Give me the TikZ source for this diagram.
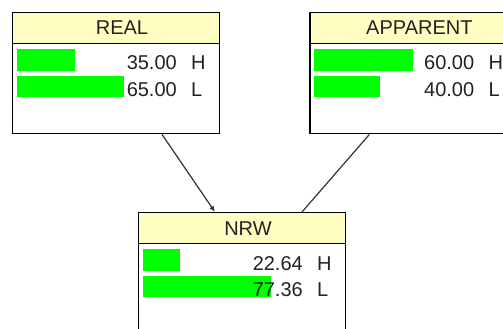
\documentclass[tikz,border=0pt]{standalone}
\usepackage{fontspec}
\setmainfont{Liberation Sans}
\usetikzlibrary{arrows.meta, positioning, calc}
\definecolor{hdrfill}{HTML}{FFFFC4}
\definecolor{barfill}{HTML}{00FF00}
\definecolor{txtgray}{HTML}{222222}
\definecolor{lnkgray}{HTML}{333333}
\tikzset{
  cpt/.style={rectangle, draw=black, fill=white, line width=1.4pt,
              minimum width=207pt, minimum height=121pt, inner sep=0pt},
  cpthead/.style={rectangle, draw=black, fill=hdrfill, line width=1.4pt,
                  minimum width=207pt, minimum height=31pt, inner sep=0pt},
  ttl/.style={font=\fontsize{20}{20}\selectfont, text=txtgray, inner sep=0pt},
  val/.style={font=\fontsize{20}{20}\selectfont, text=txtgray, inner sep=0pt},
  bar/.style={fill=barfill},
  link/.style={line width=1.2pt, draw=lnkgray},
}

\begin{document}
\begin{tikzpicture}
    \useasboundingbox[fill=white] (0,0) rectangle (503pt,-329pt);
    \clip (0,0) rectangle (503pt,-329pt);

    % boxes and headers
    \node[cpt, anchor=north west] (real) at (12pt,-12pt) {};
    \node[cpt, right=89pt of real] (apparent) {};
    \node[cpt, anchor=north west] (nrw) at (138pt,-212pt) {};
    \node[cpthead, anchor=north] (realh) at (real.north) {};
    \node[cpthead, anchor=north] (apparenth) at (apparent.north) {};
    \node[cpthead, anchor=north] (nrwh) at (nrw.north) {};
    \node[ttl, anchor=base] (realt) at ([shift={(110pt,-23pt)}]real.north west) {REAL};
    \node[ttl, anchor=base] (apparentt) at ([shift={(110pt,-23pt)}]apparent.north west) {APPARENT};
    \node[ttl, anchor=base] (nrwt) at ([shift={(110pt,-23pt)}]nrw.north west) {NRW};

    % belief bars (100% = 165pt)
    \fill[bar] ([shift={(5pt,-37pt)}]real.north west) rectangle +(57.75pt,-22pt);
    \fill[bar] ([shift={(5pt,-64pt)}]real.north west) rectangle +(107.25pt,-21pt);
    \fill[bar] ([shift={(5pt,-37pt)}]apparent.north west) rectangle +(99pt,-22pt);
    \fill[bar] ([shift={(5pt,-64pt)}]apparent.north west) rectangle +(66pt,-21pt);
    \fill[bar] ([shift={(5pt,-37pt)}]nrw.north west) rectangle +(37.36pt,-22pt);
    \fill[bar] ([shift={(5pt,-64pt)}]nrw.north west) rectangle +(127.64pt,-21pt);

    % values
    \node[val, anchor=base east] (realH) at ([shift={(165pt,-58pt)}]real.north west) {35.00};
    \node[val, anchor=base west] (realHs) at ([shift={(179pt,-58pt)}]real.north west) {H};
    \node[val, anchor=base east] (realL) at ([shift={(165pt,-84pt)}]real.north west) {65.00};
    \node[val, anchor=base west] (realLs) at ([shift={(179pt,-84pt)}]real.north west) {L};
    \node[val, anchor=base east] (apparentH) at ([shift={(165pt,-58pt)}]apparent.north west) {60.00};
    \node[val, anchor=base west] (apparentHs) at ([shift={(179pt,-58pt)}]apparent.north west) {H};
    \node[val, anchor=base east] (apparentL) at ([shift={(165pt,-84pt)}]apparent.north west) {40.00};
    \node[val, anchor=base west] (apparentLs) at ([shift={(179pt,-84pt)}]apparent.north west) {L};
    \node[val, anchor=base east] (nrwH) at ([shift={(165pt,-58pt)}]nrw.north west) {22.64};
    \node[val, anchor=base west] (nrwHs) at ([shift={(179pt,-58pt)}]nrw.north west) {H};
    \node[val, anchor=base east] (nrwL) at ([shift={(165pt,-84pt)}]nrw.north west) {77.36};
    \node[val, anchor=base west] (nrwLs) at ([shift={(179pt,-84pt)}]nrw.north west) {L};

    % links
    \draw[link, -{Latex[length=6pt, width=5pt]}] ([xshift=150pt]real.south west) -- ([xshift=77pt]nrw.north west);
    \draw[link] ([xshift=60pt]apparent.south west) -- ([xshift=164pt]nrw.north west);
\end{tikzpicture}
\end{document}
